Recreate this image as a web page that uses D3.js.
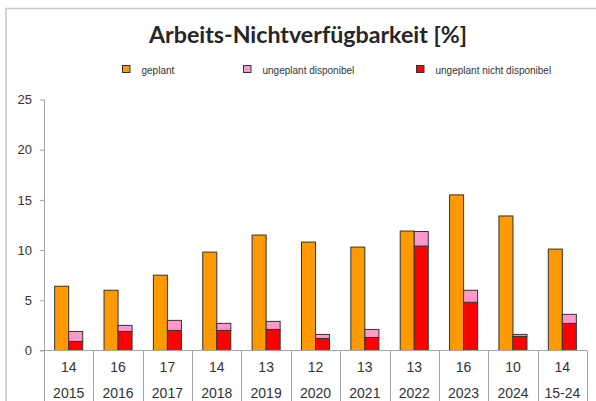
<!DOCTYPE html>
<html>
<head>
<meta charset="utf-8">
<script src="https://cdn.jsdelivr.net/npm/d3@7"></script>
<style>
  html, body { margin: 0; padding: 0; background: #fff; }
  svg { display: block; font-family: "Liberation Sans", Arial, sans-serif; }
</style>
</head>
<body>
<svg id="chart" width="596" height="401"></svg>
<script>
const years = ['2015', '2016', '2017', '2018', '2019', '2020', '2021', '2022', '2023', '2024', '15-24'];
const counts = [14, 16, 17, 14, 13, 12, 13, 13, 16, 10, 14];
const geplant = [6.4, 6.0, 7.5, 9.8, 11.5, 10.8, 10.3, 11.9, 15.5, 13.4, 10.1];
const ungeplantNichtDisp = [0.9, 1.9, 2.0, 2.0, 2.1, 1.2, 1.3, 10.4, 4.8, 1.4, 2.7];
const ungeplantDisp = [1.0, 0.6, 1.0, 0.7, 0.8, 0.4, 0.8, 1.45, 1.2, 0.2, 0.9];
const yTicks = [0, 5, 10, 15, 20, 25];

const colGeplant = '#ff9900';
const colDisp = '#ff99cc';
const colNicht = '#ff0000';
const gridGray = '#a6a6a6';

const svg = d3.select('#chart');
const plotLeft = 44, plotRight = 587, plotTop = 99.5, plotBottom = 350.5;

// chart frame
svg.append('path')
  .attr('d', `M6,401 V8.5 H596`)
  .attr('fill', 'none')
  .attr('stroke', '#c8c8c8')
  .attr('stroke-width', 1.5);

// title
svg.append('text')
  .attr('x', 308).attr('y', 43)
  .attr('text-anchor', 'middle')
  .attr('font-family', 'Lato, "Open Sans", sans-serif')
  .attr('font-weight', 'bold')
  .attr('font-size', 23)
  .attr('fill', '#262626')
  .attr('textLength', 318)
  .attr('lengthAdjust', 'spacingAndGlyphs')
  .text('Arbeits-Nichtverfügbarkeit [%]');

// legend
const legendItems = [
  { label: 'geplant', color: colGeplant, x: 122 },
  { label: 'ungeplant disponibel', color: colDisp, x: 243 },
  { label: 'ungeplant nicht disponibel', color: colNicht, x: 416 },
];
const legend = svg.append('g');
legendItems.forEach((d) => {
  legend.append('rect')
    .attr('x', d.x + 0.5).attr('y', 65.5)
    .attr('width', 7.5).attr('height', 7)
    .attr('fill', d.color)
    .attr('stroke', '#333').attr('stroke-width', 1);
  legend.append('text')
    .attr('x', d.x + 19.5).attr('y', 73.5)
    .attr('font-size', 10)
    .attr('fill', '#333')
    .text(d.label);
});

const x = d3.scaleBand().domain(years).range([plotLeft, plotRight]).paddingInner(0).paddingOuter(0);
const xInner = d3.scaleBand().domain(['geplant', 'ungeplant']).range([0, x.bandwidth()]).paddingInner(0).paddingOuter(0.76);
const y = d3.scaleLinear().domain([0, 25]).range([plotBottom, plotTop]);

// y axis
const yAxis = svg.append('g')
  .attr('transform', `translate(${plotLeft},0)`)
  .call(d3.axisLeft(y).tickValues(yTicks).tickSize(4).tickPadding(8));
yAxis.select('.domain').remove();
yAxis.selectAll('line').attr('stroke', gridGray);
yAxis.selectAll('text').attr('font-size', 13).attr('fill', '#333')
  .attr('font-family', '"Liberation Sans", Arial, sans-serif');
svg.append('line')
  .attr('x1', plotLeft + 0.5).attr('x2', plotLeft + 0.5)
  .attr('y1', plotTop).attr('y2', 401)
  .attr('stroke', gridGray);

// bars
const rows = years.map((yr, i) => ({
  year: yr,
  count: counts[i],
  geplant: geplant[i],
  nicht: ungeplantNichtDisp[i],
  disp: ungeplantDisp[i],
}));

const bars = svg.append('g');
bars.selectAll('.geplant')
  .data(rows)
  .join('rect')
  .attr('class', 'geplant')
  .attr('x', (d) => x(d.year) + xInner('geplant'))
  .attr('width', xInner.bandwidth())
  .attr('y', (d) => y(d.geplant))
  .attr('height', (d) => y(0) - y(d.geplant))
  .attr('fill', colGeplant)
  .attr('stroke', '#333').attr('stroke-width', 1);

bars.selectAll('.nicht')
  .data(rows)
  .join('rect')
  .attr('class', 'nicht')
  .attr('x', (d) => x(d.year) + xInner('ungeplant'))
  .attr('width', xInner.bandwidth())
  .attr('y', (d) => y(d.nicht))
  .attr('height', (d) => y(0) - y(d.nicht))
  .attr('fill', colNicht)
  .attr('stroke', '#333').attr('stroke-width', 1);

bars.selectAll('.disp')
  .data(rows)
  .join('rect')
  .attr('class', 'disp')
  .attr('x', (d) => x(d.year) + xInner('ungeplant'))
  .attr('width', xInner.bandwidth())
  .attr('y', (d) => y(d.nicht + d.disp))
  .attr('height', (d) => y(d.nicht) - y(d.nicht + d.disp))
  .attr('fill', colDisp)
  .attr('stroke', '#333').attr('stroke-width', 1);

// category axis with table
svg.append('line')
  .attr('x1', plotLeft - 4).attr('x2', plotRight)
  .attr('y1', plotBottom).attr('y2', plotBottom)
  .attr('stroke', gridGray);

svg.append('g').selectAll('line')
  .data(years.slice(1).concat(['end']))
  .join('line')
  .attr('x1', (d) => Math.round(d === 'end' ? plotRight : x(d)) + 0.5)
  .attr('x2', (d) => Math.round(d === 'end' ? plotRight : x(d)) + 0.5)
  .attr('y1', plotBottom).attr('y2', 401)
  .attr('stroke', gridGray);

const labels = svg.append('g').attr('font-size', 14).attr('fill', '#333').attr('text-anchor', 'middle');
labels.selectAll('.count')
  .data(rows)
  .join('text')
  .attr('x', (d) => x(d.year) + x.bandwidth() / 2)
  .attr('y', 371.5)
  .text((d) => d.count);
labels.selectAll('.year')
  .data(rows)
  .join('text')
  .attr('x', (d) => x(d.year) + x.bandwidth() / 2)
  .attr('y', 397.5)
  .text((d) => d.year);
</script>
</body>
</html>
